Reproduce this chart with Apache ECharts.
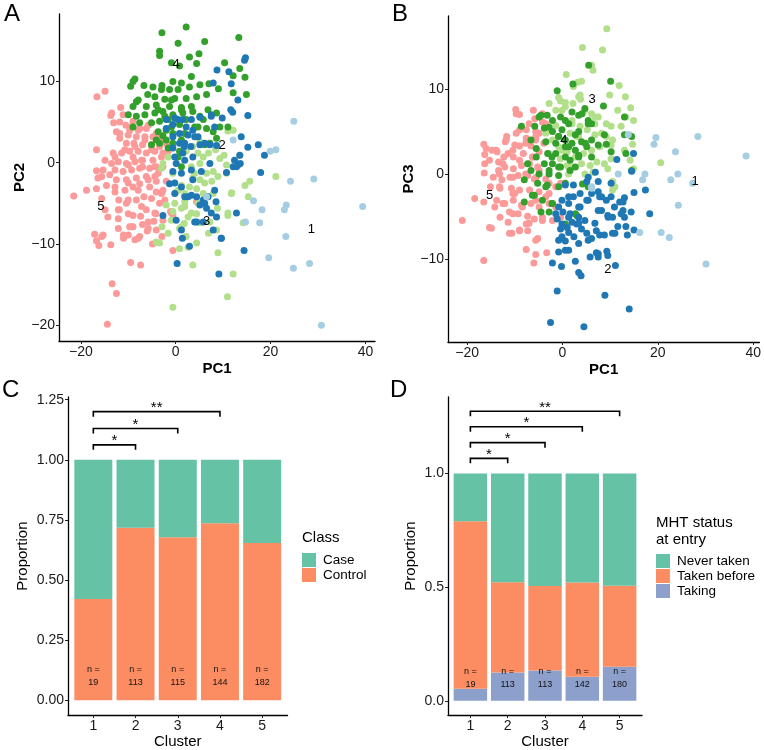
<!DOCTYPE html>
<html><head><meta charset="utf-8">
<script src="https://cdn.jsdelivr.net/npm/echarts@6/dist/echarts.min.js"></script>
<style>html,body{margin:0;padding:0;background:#fff}#c{width:764px;height:750px}</style>
</head><body><div id="c"></div>
<script>
// ---------- Panel A: PC1 vs PC2, per cluster ----------
const A1 = [[24.9,5.1],[12.1,2.8],[19.9,1.4],[21.1,1.6],[24.2,-2.3],[29.1,-2.0],[16.4,-4.7],[18.2,-5.8],[17.7,-7.4],[22.9,-5.8],[23.3,-5.2],[23.2,-9.1],[19.6,-11.7],[24.8,-13.0],[28.2,-12.4],[39.4,-5.4],[30.7,-20.0],[6.5,-4.2],[14.7,-7.3]];
const A2 = [[8.7,11.4],[11.2,11.2],[14.7,12.9],[14.5,12.6],[11.7,9.7],[7.9,9.8],[13.1,7.7],[11.6,6.5],[12.0,6.2],[15.2,5.8],[13.8,3.2],[9.8,5.5],[7.5,5.9],[5.1,5.6],[3.3,5.3],[1.5,5.3],[-0.2,5.5],[-2.0,5.3],[-2.0,4.2],[-0.6,4.7],[2.2,4.4],[3.6,4.0],[0.8,3.6],[-0.6,3.2],[2.6,3.4],[4.7,3.2],[0.8,2.4],[1.8,2.0],[3.2,2.0],[5.1,2.2],[7.2,2.2],[8.6,2.1],[-0.6,1.8],[-0.2,0.7],[1.5,1.2],[3.6,0.7],[15.2,1.9],[17.4,2.2],[18.7,0.9],[13.6,-0.1],[12.8,-0.5],[12.1,-0.5],[10.7,-1.2],[13.5,0.9],[17.9,-1.2],[0.1,-0.1],[-0.6,-1.1],[1.2,-1.3],[3.3,-0.9],[5.4,-1.1],[-1.3,-2.6],[1.2,-3.0],[2.6,-4.2],[4.4,-4.2],[5.8,-4.6],[6.8,-4.2],[5.1,-5.2],[6.5,-5.6],[8.5,-4.8],[8.6,-6.7],[7.9,-8.3],[9.6,-9.3],[5.8,-7.3],[4.4,-7.3],[1.2,-8.3],[1.4,-9.3],[2.9,-10.3],[0.3,-12.4],[-2.7,-6.5],[0.1,-7.1],[9.1,-13.7],[12.8,-6.2],[14.4,-10.8],[-0.2,-3.8],[3.6,-2.1],[7.2,-0.1],[1.9,0.3],[0.5,5.3],[1.9,2.4],[4.0,3.2],[7.5,5.7],[8.2,4.4],[6.1,2.4],[12.4,0.3],[13.1,-0.3],[1.9,-4.2],[3.3,-4.0],[-0.2,-2.5],[6.1,-5.0],[7.5,-6.2],[8.2,-3.4],[4.0,-7.3],[9.6,-9.3]];
const A3 = [[11.0,3.9],[10.2,0.9],[13.5,0.9],[8.4,1.6],[21.1,-1.7],[15.6,-2.3],[14.6,-2.8],[15.3,-4.2],[11.8,-3.7],[7.9,-3.8],[14.2,-7.4],[11.0,-6.5],[8.8,-5.6],[8.6,-8.3],[8.9,-11.1],[12.1,-13.7],[10.9,-16.5],[-0.6,-17.8],[3.6,-12.6],[0.8,-10.6],[2.6,-10.4],[4.4,-9.9],[-3.4,-9.9],[-1.6,-8.7],[-2.9,-7.9],[0.8,-8.1],[1.8,-7.5],[5.1,-7.4],[7.2,-7.3],[2.6,-6.7],[4.4,-6.3],[-0.6,-6.0],[1.2,-5.6],[-2.0,-5.2],[-0.2,-5.0],[1.9,-4.8],[0.1,-3.6],[1.9,-3.8],[1.2,-2.8],[2.9,-3.0],[4.4,-3.2],[3.6,-1.9],[5.1,-2.1],[6.5,-1.3],[7.9,-1.1],[8.9,-1.7],[5.1,-0.1],[3.3,-0.5],[5.8,0.7],[6.9,1.2],[4.7,1.2],[3.6,2.0],[5.1,2.6],[2.2,1.4],[-2.7,-0.1],[-3.0,-0.7],[-1.6,0.7],[9.3,0.5],[10.7,-0.3],[7.6,-2.3],[5.8,-3.8],[-4.1,-9.8],[6.9,-8.7],[2.2,-9.1],[10.7,-1.3],[12.1,4.0],[-0.6,-1.3],[0.5,-3.4],[1.9,-5.4],[3.3,-6.2],[4.7,-5.0],[-0.9,-7.1],[1.2,-7.9],[6.1,-2.5],[4.0,-1.3],[6.8,-4.2],[11.7,-3.8],[11.0,-6.2]];
const A4 = [[-2.9,16.0],[2.2,16.7],[-3.4,13.7],[-3.4,13.2],[0.5,14.7],[6.1,14.9],[13.3,15.4],[4.9,13.4],[2.9,13.0],[-0.9,12.3],[4.4,12.2],[0.8,11.9],[10.3,12.3],[13.5,11.6],[12.1,10.7],[14.6,10.5],[-8.6,10.3],[-9.0,10.0],[3.3,10.6],[1.2,9.8],[-0.6,10.0],[-9.5,9.4],[-6.7,9.5],[-4.8,9.3],[-2.9,9.5],[-1.3,9.0],[0.5,9.0],[2.9,9.3],[5.1,9.6],[7.0,9.7],[9.0,9.1],[12.1,8.6],[14.9,8.4],[-5.9,8.4],[-4.4,8.1],[-2.3,7.8],[-0.2,7.9],[2.2,7.9],[4.4,8.1],[6.5,8.4],[-8.3,7.5],[-6.2,6.9],[-4.1,7.1],[-1.3,6.9],[1.2,6.8],[3.3,6.9],[-9.0,6.9],[-10.0,5.9],[-8.3,5.7],[-6.5,5.9],[-4.4,6.1],[-2.7,6.3],[-0.6,5.9],[1.5,6.1],[3.6,6.3],[6.8,6.5],[8.6,6.1],[-9.0,4.4],[-7.6,4.9],[-5.1,4.9],[-3.4,5.1],[-1.6,5.3],[0.8,4.7],[4.7,4.4],[6.5,4.2],[9.3,4.4],[11.0,4.4],[-3.7,3.8],[-2.0,4.0],[7.9,3.8],[8.6,3.0],[-4.1,2.8],[-2.0,2.8],[-0.6,2.4],[1.2,2.8],[-3.4,2.4],[-1.6,1.8],[0.8,1.4],[0.5,0.7],[1.2,-0.5],[-5.1,2.2],[5.1,5.7],[5.8,5.3],[7.2,2.4],[6.1,2.2],[-2.7,3.3],[-0.6,3.6],[2.2,5.3],[-3.0,9.0],[-0.9,7.7],[1.2,6.5],[-2.3,5.7],[-0.9,4.4],[1.9,3.6],[4.0,4.4],[-3.7,6.5],[-7.9,7.7]];
const A5 = [[-14.9,8.8],[-16.6,8.1],[-11.6,6.8],[-13.5,6.1],[-13.7,5.8],[-11.1,5.9],[-13.1,4.9],[-10.5,4.6],[-9.0,5.1],[-21.5,-4.1],[-18.8,-3.4],[-16.7,1.6],[-16.7,-1.0],[-16.4,-1.9],[-16.7,-3.2],[-15.3,-0.9],[-15.6,-4.4],[-14.9,-5.8],[-17.1,-8.8],[-16.7,-9.6],[-15.3,-8.9],[-16.2,-10.2],[-13.7,-10.1],[-13.4,-14.9],[-12.5,-16.1],[-14.4,-19.9],[-9.5,-12.3],[-7.4,-12.6],[-12.1,-8.1],[-11.0,-8.9],[-11.0,-9.3],[-9.7,-7.9],[-8.6,-9.5],[-7.6,-9.1],[-9.0,-7.9],[-6.0,-8.4],[-4.9,-10.0],[-4.1,-9.8],[-2.9,-9.1],[-4.6,-7.2],[-2.7,-7.1],[-1.1,-6.0],[-0.6,-10.8],[-0.6,-6.4],[4.4,-4.8],[-11.9,-5.8],[-10.0,-6.3],[-7.4,-6.6],[-6.2,-5.8],[-5.8,-7.3],[-4.2,-6.3],[-3.4,-5.0],[-2.3,-4.6],[-5.1,-4.4],[-6.7,-4.2],[-8.3,-4.6],[-10.4,-5.0],[-12.0,-4.6],[-12.8,-3.6],[-10.7,-3.4],[-9.0,-3.0],[-7.6,-2.6],[-5.5,-3.0],[-4.1,-3.6],[-2.7,-3.4],[-2.0,-2.3],[-4.1,-2.3],[-6.2,-1.7],[-8.3,-1.9],[-10.4,-2.1],[-12.5,-2.1],[-13.9,-1.5],[-12.8,-0.9],[-11.1,-1.1],[-9.3,-0.9],[-7.6,-0.7],[-5.5,-0.7],[-3.7,-1.3],[-2.7,-0.5],[-4.8,0.3],[-7.0,0.3],[-8.6,0.1],[-10.4,-0.1],[-12.1,0.1],[-13.2,1.2],[-11.4,1.2],[-9.7,1.4],[-7.9,1.4],[-6.2,1.2],[-4.4,1.4],[-2.7,1.2],[-3.4,2.0],[-5.1,2.2],[-7.0,2.2],[-8.8,2.4],[-10.4,2.4],[-11.8,3.0],[-10.0,3.4],[-8.3,3.2],[-6.5,3.2],[-4.8,3.2],[-3.4,2.9],[-6.2,4.2],[-7.9,4.0],[-11.8,3.6],[-12.5,3.8],[-9.3,4.4],[-2.0,2.4],[-1.6,1.4],[-4.1,-0.5],[-9.0,0.7],[-7.0,-0.5],[-13.5,-0.1],[-14.6,-2.8],[-9.0,-6.5],[-12.1,-6.9],[-7.0,-7.6],[-4.1,-8.3],[-10.0,-8.9],[-11.8,5.0],[-9.7,4.0],[-7.6,4.2],[-5.8,4.6],[-4.1,3.6],[-6.5,2.8],[-8.6,2.0],[-10.7,1.6],[-12.8,0.7],[-14.9,0.3],[-5.1,1.6],[-3.0,0.7],[-7.2,0.3],[-10.0,-0.3],[-4.4,-0.5],[-15.6,-1.7],[-12.8,-3.0],[-10.0,-2.5],[-7.9,-3.4],[-5.8,-2.1],[-4.4,-1.7],[-3.0,-3.8],[-10.0,-4.6],[-7.2,-5.4],[-12.1,-5.8],[-4.4,-6.2],[-14.3,-6.7],[-9.3,-7.9],[-5.8,-8.1],[-15.6,-9.1],[-7.9,-9.3],[-0.9,-6.2]];
const labelsA = [[28.6,-8.2,'1'],[9.8,2.1,'2'],[6.5,-7.2,'3'],[0.1,12.1,'4'],[-15.8,-5.4,'5']];

// ---------- Panel B: PC1 vs PC3, per cluster ----------
const B1 = [[38.5,2.1],[28.4,4.4],[23.7,2.6],[19.6,4.3],[19.2,3.5],[24.2,0.0],[22.7,-0.7],[27.3,-1.1],[17.3,0.0],[16.8,-0.7],[24.3,-3.7],[20.7,-6.9],[22.4,-7.5],[16.2,-6.9],[30.1,-10.6],[13.8,4.6],[11.7,0.0],[6.1,-1.5],[6.1,-1.7]];
const B2 = [[-2.5,-17.5],[4.5,-18.0],[-1.1,-13.8],[8.9,-14.3],[14.0,-15.9],[-2.1,-10.5],[-0.2,-10.9],[-0.8,-9.2],[0.6,-9.0],[2.7,-10.3],[3.4,-11.6],[3.9,-12.0],[5.8,-9.8],[7.1,-9.3],[7.5,-9.8],[9.3,-9.1],[9.5,-9.6],[11.1,-10.8],[-0.8,-7.8],[0.6,-7.9],[2.4,-7.4],[3.4,-8.2],[5.1,-7.0],[6.1,-7.6],[7.8,-7.2],[8.8,-7.2],[10.5,-7.0],[11.6,-6.2],[13.6,-7.2],[15.0,-6.6],[13.3,-6.2],[13.0,-5.1],[14.4,-4.5],[12.7,-4.3],[12.7,-3.3],[12.0,-3.3],[13.0,-2.8],[10.5,-5.1],[9.5,-4.9],[8.2,-4.3],[7.5,-4.3],[7.8,-2.7],[7.5,-2.1],[6.1,-2.3],[5.1,-3.1],[3.7,-3.9],[2.3,-2.7],[1.3,-3.5],[-0.1,-3.1],[-0.8,-3.9],[0.1,-4.5],[1.6,-4.7],[3.4,-5.1],[3.0,-5.9],[4.0,-6.5],[2.0,-5.7],[1.3,-6.9],[-0.1,-5.9],[-1.1,-5.3],[-0.4,-6.5],[0.6,-1.3],[2.3,-1.3],[3.7,-2.3],[5.1,-0.9],[6.9,0.2],[10.2,-1.1],[11.4,1.7],[14.9,2.4],[14.5,0.3],[17.4,-1.9],[18.3,-4.7],[15.0,-2.2],[5.4,-0.4],[7.5,-0.9],[9.2,-3.1],[10.9,-3.9],[1.0,-6.3],[4.7,-5.5],[7.1,-6.7],[-1.4,-4.7],[10.2,-2.7],[1.3,-2.7],[3.4,-3.9],[5.4,-3.1],[8.2,-2.7],[1.3,-5.1],[3.4,-5.8],[6.8,-5.8],[9.6,-5.1],[12.3,-4.7],[-0.1,-7.4],[5.4,-7.8],[11.0,-7.0],[1.3,-9.0],[7.5,-9.4]];
const B3 = [[9.3,17.1],[4.2,14.9],[8.4,14.6],[6.1,12.8],[6.4,12.2],[0.8,11.7],[3.2,10.8],[4.0,10.9],[11.9,10.4],[9.9,9.3],[13.2,9.1],[14.3,7.8],[11.6,7.5],[13.3,6.7],[14.9,6.3],[-0.8,9.0],[-0.4,8.6],[0.6,8.4],[2.2,8.3],[3.7,9.3],[3.8,8.8],[-1.4,7.5],[-0.1,7.5],[4.7,7.5],[6.1,7.1],[7.5,6.7],[9.2,5.9],[10.2,5.6],[6.8,5.9],[5.2,5.2],[3.7,5.6],[2.0,5.9],[3.0,4.4],[6.8,4.6],[9.2,4.4],[10.2,3.4],[14.7,3.5],[14.0,4.6],[7.8,3.2],[6.1,2.8],[4.4,2.4],[2.7,2.0],[1.0,2.6],[-0.4,1.8],[1.0,1.0],[2.3,0.8],[4.0,1.2],[5.8,1.0],[7.2,1.4],[8.8,1.2],[10.2,1.8],[14.9,0.6],[14.2,1.6],[20.6,1.3],[9.5,0.6],[10.5,-0.9],[11.0,-1.5],[10.5,-1.9],[1.3,0.0],[-3.5,4.8],[-2.1,4.0],[-0.8,3.2],[-1.4,5.7],[1.6,4.8],[2.3,10.3],[10.5,4.0],[13.0,2.8],[12.3,5.6],[4.7,0.0],[6.4,0.2],[-2.8,8.3],[0.6,7.9],[3.4,9.1],[2.0,6.3],[6.8,6.7],[8.2,4.8],[3.4,4.4],[-0.1,2.8],[1.3,0.8],[-2.8,2.4]];
const B4 = [[5.5,12.8],[2.2,10.6],[10.1,10.9],[-1.1,9.8],[8.6,8.0],[13.0,6.7],[4.7,7.7],[3.4,6.9],[2.0,7.3],[-4.5,6.9],[-3.2,6.9],[-8.6,5.6],[-5.8,5.6],[-2.1,6.3],[-0.4,6.7],[1.3,5.9],[-3.8,5.4],[-2.1,5.0],[-0.1,5.2],[3.4,5.0],[5.4,6.3],[6.1,5.9],[8.8,4.6],[9.2,3.5],[7.5,3.4],[14.5,4.4],[13.3,2.4],[14.5,0.4],[-3.5,3.8],[-1.4,3.6],[0.6,4.0],[2.0,3.6],[4.0,3.8],[5.1,3.2],[-5.5,3.0],[-3.1,2.4],[-1.4,2.4],[0.6,2.0],[3.4,2.2],[6.1,2.0],[-5.5,2.0],[-3.8,1.2],[-2.1,1.2],[-0.4,0.8],[1.6,0.4],[-2.8,0.0],[-0.8,-0.2],[-8.0,-0.7],[-5.2,-1.1],[-3.2,-1.3],[-0.8,-1.5],[-5.9,-2.5],[-4.2,-3.1],[-2.1,-3.5],[-8.0,-3.3],[-4.5,-4.5],[-2.8,-4.5],[3.0,-4.9],[0.6,-5.9],[-7.3,1.2],[-6.6,4.0],[4.2,-1.2],[5.4,-1.5],[0.6,3.2],[2.7,2.8],[10.2,2.6],[13.0,4.6],[-4.9,0.0],[-6.6,0.4],[6.1,4.0],[2.7,4.6],[-0.8,4.4],[1.6,1.6],[-4.9,6.7],[-2.8,5.5],[-0.8,4.4],[1.3,3.2],[3.4,2.0],[4.8,3.6],[0.6,6.3],[4.1,7.1],[-2.2,2.0],[-0.8,0.8],[2.7,0.8],[-2.8,0.4],[5.4,5.9],[-6.3,-2.5],[-2.2,-3.5],[2.7,-4.7],[-3.5,-1.5],[0.6,-1.1]];
const B5 = [[-9.8,7.6],[-9.0,7.0],[-6.1,7.5],[-5.8,6.5],[-11.7,4.4],[-12.0,3.8],[-16.5,3.5],[-16.0,3.0],[-14.8,2.8],[-16.3,2.3],[-16.3,1.2],[-16.4,0.1],[-13.4,1.4],[-13.4,0.4],[-11.4,2.4],[-10.0,3.4],[-9.7,4.8],[-7.6,4.2],[-5.6,4.0],[-7.6,5.2],[-5.6,5.0],[-4.2,6.1],[-10.3,2.0],[-8.2,2.4],[-6.2,2.0],[-4.9,2.6],[-12.1,0.8],[-10.3,0.6],[-8.6,1.0],[-6.9,1.2],[-5.2,0.8],[-14.5,-0.4],[-12.7,-0.7],[-11.0,-0.4],[-9.3,-0.2],[-7.3,-0.2],[-5.5,-0.4],[-3.5,-0.6],[-0.4,-1.1],[-15.1,-1.5],[-13.1,-1.7],[-10.7,-1.7],[-9.0,-1.9],[-6.9,-1.9],[-4.9,-2.1],[-2.8,-2.3],[-18.4,-2.9],[-16.5,-3.3],[-13.8,-3.1],[-12.1,-3.5],[-10.3,-3.1],[-8.6,-3.7],[-6.6,-3.5],[-4.9,-3.9],[-3.5,-2.7],[-1.4,-3.9],[-14.2,-3.9],[-11.1,-4.5],[-9.3,-4.7],[-7.3,-5.0],[-5.9,-5.3],[-4.2,-5.5],[-2.1,-5.5],[-0.4,-5.1],[-21.0,-5.5],[-14.9,-6.4],[-10.6,-7.0],[-7.6,-5.9],[-7.3,-6.7],[-5.2,-7.6],[-7.6,-8.9],[-5.6,-9.5],[-6.0,-10.5],[-3.3,-9.3],[-16.5,-10.2],[-11.4,-5.7],[-9.0,-6.7],[-13.1,-5.1],[-10.0,-2.3],[-5.9,-0.6],[-1.4,-1.5],[-2.8,-1.1],[-12.3,2.0],[-13.7,2.6],[-9.0,3.3],[-6.6,3.3],[-3.9,3.6],[-4.9,4.8],[-9.7,7.1],[-7.0,5.9],[-9.0,5.2],[-11.8,4.0],[-13.9,2.8],[-10.4,2.8],[-7.7,3.6],[-5.6,4.4],[-15.3,1.6],[-12.5,1.2],[-9.0,1.6],[-6.3,2.0],[-3.5,5.9],[-4.2,7.1],[-4.9,0.4],[-7.7,0.0],[-10.4,-0.4],[-13.2,0.0],[-12.5,-3.5],[-10.4,-4.7],[-8.4,-3.9],[-11.1,-7.0],[-9.0,-6.6],[-5.6,-7.8],[-15.3,-6.3],[-7.0,-5.8],[-4.2,-5.1],[-2.8,-3.5],[-5.6,-3.1],[-10.4,-2.3],[-13.2,-1.5]];
const labelsB = [[27.8,-0.9,'1'],[9.5,-11.2,'2'],[6.2,8.8,'3'],[0.3,3.9,'4'],[-15.3,-2.5,'5']];

// ---------- Panel C: Class proportions ----------
const clusters = [1, 2, 3, 4, 5];
const nC = [19, 113, 115, 144, 182];
const propControl = [0.421, 0.717, 0.678, 0.736, 0.654];
const propCase = [0.579, 0.283, 0.322, 0.264, 0.346];
const bracketsC = [[1, 2, 1.062], [1, 3, 1.130], [1, 4, 1.200]];
const starsC = ['*', '*', '**'];
const ticksC = [0, 0.25, 0.5, 0.75, 1, 1.25];

// ---------- Panel D: MHT status proportions ----------
const nD = [19, 113, 113, 142, 180];
const propTaking = [0.053, 0.124, 0.133, 0.106, 0.150];
const propTakenBefore = [0.737, 0.398, 0.372, 0.415, 0.356];
const propNever = [0.210, 0.478, 0.495, 0.479, 0.494];
const bracketsD = [[1, 2, 1.067], [1, 3, 1.136], [1, 4, 1.206], [1, 5, 1.274]];
const starsD = ['*', '*', '*', '**'];
const ticksD = [0, 0.5, 1];

const FONT = "'Liberation Sans', Arial, Helvetica, sans-serif";
const COLS = ['#A6CEE3', '#1F78B4', '#B2DF8A', '#33A02C', '#FB9A99'];
const minus = v => String(v).replace('-', '\u2212');

function valAxis(grid, min, max, ticks, fmt, name, nameGap, extra) {
  return Object.assign({
    type: 'value', gridIndex: grid, min: min, max: max,
    axisLine: {show: true, onZero: false, lineStyle: {color: '#000', width: 1.3}},
    axisTick: {show: true, length: 3, lineStyle: {color: '#222', width: 1}, customValues: ticks},
    axisLabel: {customValues: ticks, formatter: fmt, color: '#1a1a1a', fontSize: 14, fontFamily: FONT, margin: 4},
    splitLine: {show: false},
    name: name, nameLocation: 'middle', nameGap: nameGap,
    nameTextStyle: {fontSize: 15, fontFamily: FONT, color: '#000'}
  }, extra || {});
}

const chart = echarts.init(document.getElementById('c'), null, {renderer: 'canvas'});

const scatterSeries = [];
const order = [4, 2, 3, 1, 0];
[[A1, A2, A3, A4, A5], [B1, B2, B3, B4, B5]].forEach((set, gi) => {
  order.forEach(k => {
    scatterSeries.push({
      type: 'scatter', xAxisIndex: gi, yAxisIndex: gi, data: set[k],
      symbolSize: 7, itemStyle: {color: COLS[k], opacity: 1}, silent: true
    });
  });
});

function textSeries(gi, labels) {
  return {
    type: 'custom', xAxisIndex: gi, yAxisIndex: gi, silent: true, z: 10,
    data: labels.map(l => [l[0], l[1]]),
    renderItem: (params, api) => {
      const p = api.coord([api.value(0), api.value(1)]);
      return {type: 'text', style: {text: labels[params.dataIndex][2], x: p[0], y: p[1],
        align: 'center', verticalAlign: 'middle', font: '13px ' + FONT, fill: '#000'}};
    }
  };
}

// stacked bars drawn as rectangles: each series gets [cluster, bottom, top]
function stackSeries(gi, name, color, parts, idx, width) {
  const data = clusters.map((c, i) => {
    let b = 0;
    for (let k = 0; k < idx; k++) b += parts[k][i];
    return [c, b, b + parts[idx][i]];
  });
  return {
    type: 'custom', name: name, xAxisIndex: gi, yAxisIndex: gi, silent: true,
    itemStyle: {color: color}, data: data,
    encode: {x: 0, y: [1, 2]},
    renderItem: (params, api) => {
      const p0 = api.coord([api.value(0), api.value(1)]);
      const p1 = api.coord([api.value(0), api.value(2)]);
      return {type: 'rect', shape: {x: p0[0] - width / 2, y: p1[1], width: width, height: p0[1] - p1[1]},
        style: {fill: color}};
    }
  };
}

function bracketSeries(gi, br, stars) {
  return {
    type: 'custom', xAxisIndex: gi, yAxisIndex: gi, silent: true, z: 10,
    data: br,
    renderItem: (params, api) => {
      const y = api.value(2);
      const p1 = api.coord([api.value(0), y]);
      const p2 = api.coord([api.value(1), y]);
      return {type: 'group', children: [
        {type: 'polyline', shape: {points: [[p1[0], p1[1] + 5], [p1[0], p1[1]], [p2[0], p2[1]], [p2[0], p2[1] + 5]]},
         style: {stroke: '#000', lineWidth: 1.6, fill: null}},
        {type: 'text', style: {text: stars[params.dataIndex], x: (p1[0] + p2[0]) / 2, y: p1[1] + 4,
          align: 'center', verticalAlign: 'bottom', font: '15px ' + FONT, fill: '#000'}}
      ]};
    }
  };
}

function nSeries(gi, ns) {
  return {
    type: 'custom', xAxisIndex: gi, yAxisIndex: gi, silent: true, z: 10,
    data: clusters.map((c, i) => [c, 0.1, ns[i]]),
    renderItem: (params, api) => {
      const p = api.coord([api.value(0), api.value(1)]);
      return {type: 'text', style: {text: 'n =\n' + api.value(2), x: p[0], y: p[1],
        align: 'center', verticalAlign: 'middle', font: '9px ' + FONT, lineHeight: 12.5, fill: '#111'}};
    }
  };
}

const barC = 38, barD = 33.5;
const partsC = [propControl, propCase];
const partsD = [propTaking, propTakenBefore, propNever];
const boldName = {fontSize: 15, fontWeight: 'bold', fontFamily: FONT, color: '#000'};
const option = {
  animation: false,
  backgroundColor: '#fff',
  grid: [
    {left: 59, top: 14, width: 316, height: 327},
    {left: 448, top: 16, width: 315, height: 326},
    {left: 68, top: 397, width: 219.5, height: 320},
    {left: 448, top: 397, width: 194, height: 320}
  ],
  xAxis: [
    valAxis(0, -24.6, 42.0, [-20, 0, 20, 40], minus, 'PC1', 20, {nameTextStyle: boldName}),
    valAxis(1, -24.0, 41.3, [-20, 0, 20, 40], minus, 'PC1', 20, {nameTextStyle: boldName}),
    valAxis(2, 0.4, 5.6, clusters, v => String(v), 'Cluster', 18),
    valAxis(3, 0.4, 5.6, clusters, v => String(v), 'Cluster', 18)
  ],
  yAxis: [
    valAxis(0, -21.95, 18.3, [-20, -10, 0, 10], minus, 'PC2', 29, {nameTextStyle: boldName}),
    valAxis(1, -19.8, 18.6, [-10, 0, 10], minus, 'PC3', 32, {nameTextStyle: boldName}),
    valAxis(2, -0.062, 1.261, ticksC, v => v.toFixed(2), 'Proportion', 38),
    valAxis(3, -0.063, 1.337, ticksD, v => v.toFixed(1), 'Proportion', 30)
  ],
  legend: [
    {left: 302, top: 553, padding: 0, orient: 'vertical', itemWidth: 14, itemHeight: 14, itemGap: 1, icon: 'rect',
     selectedMode: false, data: ['Case', 'Control'],
     textStyle: {fontSize: 13.5, fontFamily: FONT, color: '#000', lineHeight: 14, padding: [0, 0, 0, 2]}},
    {left: 656, top: 554, padding: 0, orient: 'vertical', itemWidth: 14, itemHeight: 14, itemGap: 1, icon: 'rect',
     selectedMode: false, data: ['Never taken', 'Taken before', 'Taking'],
     textStyle: {fontSize: 13.5, fontFamily: FONT, color: '#000', lineHeight: 14, padding: [0, 0, 0, 2]}}
  ],
  graphic: [
    {type: 'text', left: 4, top: 2, style: {text: 'A', font: '24px ' + FONT, fill: '#000'}},
    {type: 'text', left: 392, top: 2, style: {text: 'B', font: '24px ' + FONT, fill: '#000'}},
    {type: 'text', left: 2, top: 378, style: {text: 'C', font: '24px ' + FONT, fill: '#000'}},
    {type: 'text', left: 390, top: 378, style: {text: 'D', font: '24px ' + FONT, fill: '#000'}},
    {type: 'text', left: 302, top: 530, style: {text: 'Class', font: '15px ' + FONT, fill: '#000'}},
    {type: 'text', left: 656, top: 514, style: {text: 'MHT status\nat entry', font: '15px ' + FONT, fill: '#000', lineHeight: 17}}
  ],
  series: scatterSeries.concat([
    textSeries(0, labelsA),
    textSeries(1, labelsB),
    stackSeries(2, 'Control', '#FC8D62', partsC, 0, barC),
    stackSeries(2, 'Case', '#66C2A5', partsC, 1, barC),
    bracketSeries(2, bracketsC, starsC),
    nSeries(2, nC),
    stackSeries(3, 'Taking', '#8DA0CB', partsD, 0, barD),
    stackSeries(3, 'Taken before', '#FC8D62', partsD, 1, barD),
    stackSeries(3, 'Never taken', '#66C2A5', partsD, 2, barD),
    bracketSeries(3, bracketsD, starsD),
    nSeries(3, nD)
  ])
};
chart.setOption(option);
</script>
</body></html>
